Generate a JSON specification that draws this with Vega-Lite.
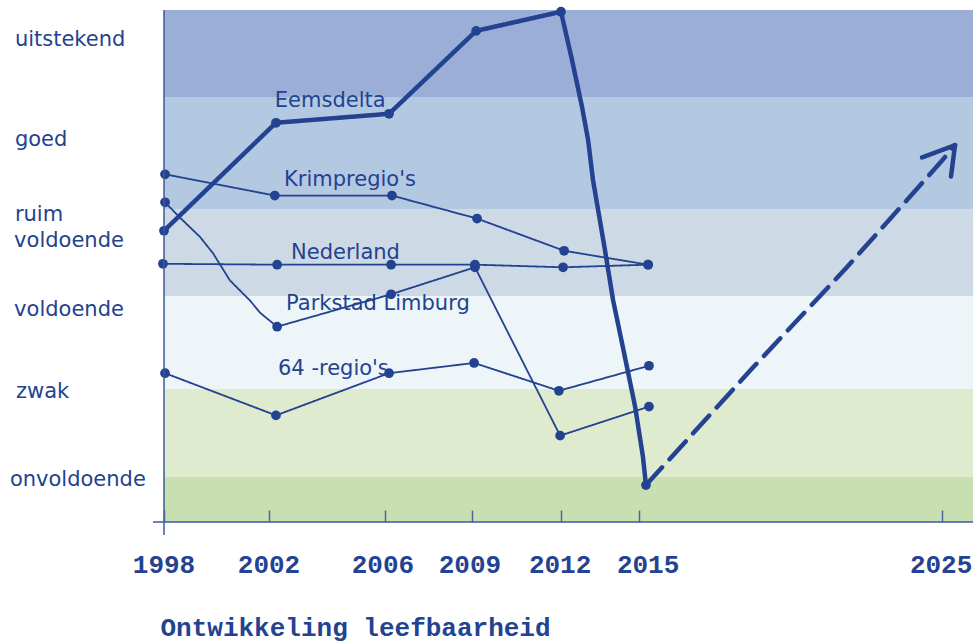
{
"$schema":"https://vega.github.io/schema/vega-lite/v6.json",
"width":809,"height":512,"autosize":"none",
"padding":{"left":164,"top":10,"right":2,"bottom":122},
"background":"white",
"config":{"view":{"stroke":null}},
"datasets":{
"bands":[
{"band":"onvoldoende","low":0,"high":1},
{"band":"zwak","low":1,"high":2},
{"band":"voldoende","low":2,"high":3},
{"band":"ruim voldoende","low":3,"high":4},
{"band":"goed","low":4,"high":5},
{"band":"uitstekend","low":5,"high":6}
],
"lines":[
{"series":"Eemsdelta","year":1998,"score":3.75,"kind":"meting"},
{"series":"Eemsdelta","year":2002.24,"score":4.77,"kind":"meting"},
{"series":"Eemsdelta","year":2006.14,"score":4.85,"kind":"meting"},
{"series":"Eemsdelta","year":2009.14,"score":5.76,"kind":"meting"},
{"series":"Eemsdelta","year":2012,"score":5.98,"kind":"meting"},
{"series":"Eemsdelta","year":2012.42,"score":5.43,"kind":"verloop"},
{"series":"Eemsdelta","year":2012.81,"score":4.91,"kind":"verloop"},
{"series":"Eemsdelta","year":2013.04,"score":4.62,"kind":"verloop"},
{"series":"Eemsdelta","year":2013.23,"score":4.26,"kind":"verloop"},
{"series":"Eemsdelta","year":2013.69,"score":3.53,"kind":"verloop"},
{"series":"Eemsdelta","year":2014,"score":2.96,"kind":"verloop"},
{"series":"Eemsdelta","year":2014.38,"score":2.45,"kind":"verloop"},
{"series":"Eemsdelta","year":2014.85,"score":1.8,"kind":"verloop"},
{"series":"Eemsdelta","year":2015.13,"score":1.23,"kind":"verloop"},
{"series":"Eemsdelta","year":2015.23,"score":0.82,"kind":"meting"},
{"series":"Krimpregio's","year":1998.04,"score":4.31,"kind":"meting"},
{"series":"Krimpregio's","year":2002.2,"score":4.12,"kind":"meting"},
{"series":"Krimpregio's","year":2006.24,"score":4.12,"kind":"meting"},
{"series":"Krimpregio's","year":2009.17,"score":3.89,"kind":"meting"},
{"series":"Krimpregio's","year":2012.12,"score":3.52,"kind":"meting"},
{"series":"Krimpregio's","year":2015.3,"score":3.36,"kind":"meting"},
{"series":"Nederland","year":1997.96,"score":3.37,"kind":"meting"},
{"series":"Nederland","year":2002.28,"score":3.36,"kind":"meting"},
{"series":"Nederland","year":2006.21,"score":3.36,"kind":"meting"},
{"series":"Nederland","year":2009.1,"score":3.36,"kind":"meting"},
{"series":"Nederland","year":2012.08,"score":3.33,"kind":"meting"},
{"series":"Nederland","year":2015.3,"score":3.36,"kind":"meting"},
{"series":"Parkstad Limburg","year":1998.04,"score":4.06,"kind":"meting"},
{"series":"Parkstad Limburg","year":1998.61,"score":3.9,"kind":"verloop"},
{"series":"Parkstad Limburg","year":1999.37,"score":3.68,"kind":"verloop"},
{"series":"Parkstad Limburg","year":1999.87,"score":3.49,"kind":"verloop"},
{"series":"Parkstad Limburg","year":2000.51,"score":3.18,"kind":"verloop"},
{"series":"Parkstad Limburg","year":2001.28,"score":2.95,"kind":"verloop"},
{"series":"Parkstad Limburg","year":2001.66,"score":2.82,"kind":"verloop"},
{"series":"Parkstad Limburg","year":2002.28,"score":2.67,"kind":"meting"},
{"series":"Parkstad Limburg","year":2006.21,"score":3.02,"kind":"meting"},
{"series":"Parkstad Limburg","year":2009.1,"score":3.33,"kind":"meting"},
{"series":"Parkstad Limburg","year":2011.97,"score":1.47,"kind":"meting"},
{"series":"Parkstad Limburg","year":2015.33,"score":1.8,"kind":"meting"},
{"series":"64-regio's","year":1998.04,"score":2.17,"kind":"meting"},
{"series":"64-regio's","year":2002.24,"score":1.7,"kind":"meting"},
{"series":"64-regio's","year":2006.14,"score":2.17,"kind":"meting"},
{"series":"64-regio's","year":2009.07,"score":2.28,"kind":"meting"},
{"series":"64-regio's","year":2011.93,"score":1.98,"kind":"meting"},
{"series":"64-regio's","year":2015.33,"score":2.25,"kind":"meting"},
{"series":"Doel","year":2015.23,"score":0.82,"kind":"verloop"},
{"series":"Doel","year":2018.76,"score":2.23,"kind":"verloop"},
{"series":"Doel","year":2021.86,"score":3.33,"kind":"verloop"},
{"series":"Doel","year":2024.93,"score":4.41,"kind":"verloop"},
{"series":"Doel","year":2026.26,"score":4.57,"kind":"verloop"},
{"series":"Pijlpunt links","year":2024.34,"score":4.46,"kind":"verloop"},
{"series":"Pijlpunt links","year":2026.26,"score":4.57,"kind":"verloop"},
{"series":"Pijlpunt rechts","year":2025.87,"score":4.29,"kind":"verloop"},
{"series":"Pijlpunt rechts","year":2026.26,"score":4.57,"kind":"verloop"}
],
"names":[
{"text":"Eemsdelta","year":2002.2,"score":4.96},
{"text":"Krimpregio's","year":2002.52,"score":4.26},
{"text":"Nederland","year":2002.76,"score":3.49},
{"text":"Parkstad Limburg","year":2002.59,"score":2.91},
{"text":"64 -regio's","year":2002.31,"score":2.22},
{"text":"uitstekend","year":1992.32,"score":5.655},
{"text":"goed","year":1992.32,"score":4.62},
{"text":"ruim","year":1992.32,"score":3.93},
{"text":"voldoende","year":1992.29,"score":3.63},
{"text":"voldoende","year":1992.29,"score":2.85},
{"text":"zwak","year":1992.36,"score":1.97},
{"text":"onvoldoende","year":1992.13,"score":0.93}
],
"ticklabels":[
{"label":"1998","year":1998,"score":-0.956},
{"label":"2002","year":2002,"score":-0.956},
{"label":"2006","year":2005.93,"score":-0.956},
{"label":"2009","year":2008.93,"score":-0.956},
{"label":"2012","year":2011.97,"score":-0.956},
{"label":"2015","year":2015.3,"score":-0.956},
{"label":"2025","year":2024.97,"score":-0.956}
]
},
"layer":[
{"data":{"name":"bands"},"mark":{"type":"rect"},
 "encoding":{
  "y":{"field":"low","type":"quantitative","scale":{"domain":[0,1,2,3,4,5,6],"range":[512,467,379,286,199,87,0],"nice":false,"zero":false},"axis":null},
  "y2":{"field":"high"},
  "fill":{"field":"band","type":"nominal","legend":null,"scale":{"domain":["onvoldoende","zwak","voldoende","ruim voldoende","goed","uitstekend"],"range":["#C8E0B1","#DFEBCF","#EDF5F8","#CDD9E5","#B3C8E1","#9AAED7"]}}
 }},
{"data":{"name":"lines"},"mark":{"type":"line","strokeCap":"round","strokeJoin":"round","color":"#234290"},
 "encoding":{
  "x":{"field":"year","type":"quantitative","scale":{"domain":[1998,2002,2006,2009,2012,2015,2025,2028],"range":[0,105,221,308,397,475,778,809],"nice":false,"zero":false},
   "axis":{"values":[1998,2002,2006,2009,2012,2015,2025],"format":"d","grid":false,"domain":false,"zindex":1,"tickSize":-12,"tickColor":"#4A66A3","tickWidth":1.5,"labels":false,
    "title":"Ontwikkeling leefbaarheid","titleFont":"Liberation Mono","titleFontWeight":"bold","titleFontSize":26,"titleColor":"#234290","titleAlign":"left","titleAnchor":"start","titleX":-4,"titleY":113,"titleBaseline":"alphabetic"}},
  "y":{"field":"score","type":"quantitative"},
  "detail":{"field":"series"},
  "order":{"field":"year"},
  "strokeWidth":{"field":"series","type":"nominal","legend":null,"scale":{"type":"ordinal","domain":["Eemsdelta","Krimpregio's","Nederland","Parkstad Limburg","64-regio's","Doel","Pijlpunt links","Pijlpunt rechts"],"range":[4.5,1.8,1.8,1.8,1.8,4.5,4.5,4.5]}},
  "strokeDash":{"field":"series","type":"nominal","legend":null,"scale":{"domain":["Eemsdelta","Krimpregio's","Nederland","Parkstad Limburg","64-regio's","Doel","Pijlpunt links","Pijlpunt rechts"],"range":[[1,0],[1,0],[1,0],[1,0],[1,0],[24,11],[1,0],[1,0]]}}
 }},
{"data":{"name":"lines"},"transform":[{"filter":"datum.kind==='meting'"}],
 "mark":{"type":"point","filled":true,"opacity":1,"color":"#234290","size":95},
 "encoding":{"x":{"field":"year","type":"quantitative"},"y":{"field":"score","type":"quantitative"}}},
{"data":{"name":"names"},"mark":{"type":"text","align":"left","baseline":"middle","font":"DejaVu Sans","fontSize":21,"color":"#234290"},
 "encoding":{"x":{"field":"year","type":"quantitative"},"y":{"field":"score","type":"quantitative"},"text":{"field":"text"}}},
{"data":{"name":"ticklabels"},"mark":{"type":"text","align":"center","baseline":"middle","font":"Liberation Mono","fontWeight":"bold","fontSize":26,"color":"#234290"},
 "encoding":{"x":{"field":"year","type":"quantitative"},"y":{"field":"score","type":"quantitative"},"text":{"field":"label"}}},
{"data":{"values":[{"from":6,"to":-0.29,"at":1998}]},"mark":{"type":"rule","color":"#3B5A9D","strokeWidth":1.5,"clip":false},
 "encoding":{"x":{"field":"at","type":"quantitative"},"y":{"field":"from","type":"quantitative"},"y2":{"field":"to"}}},
{"data":{"values":[{"from":1997.58,"to":2028,"at":0}]},"mark":{"type":"rule","color":"#3B5A9D","strokeWidth":1.5,"clip":false},
 "encoding":{"x":{"field":"from","type":"quantitative"},"x2":{"field":"to"},"y":{"field":"at","type":"quantitative"}}}
]
}
